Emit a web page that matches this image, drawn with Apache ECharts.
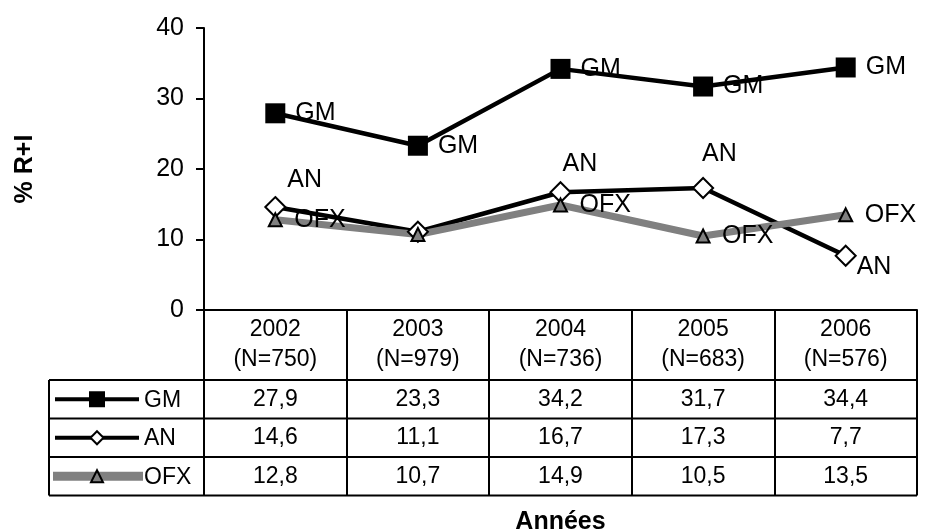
<!DOCTYPE html>
<html>
<head>
<meta charset="utf-8">
<script src="https://cdn.jsdelivr.net/npm/echarts@6/dist/echarts.min.js"></script>
<style>
  html, body { margin: 0; padding: 0; background: #fff; }
  #chart { width: 932px; height: 531px; }
</style>
</head>
<body>
<div id="chart"></div>
<script>
// Survey years and the sample size for each year
const years = ['2002', '2003', '2004', '2005', '2006'];
const sampleSizes = [750, 979, 736, 683, 576];

// Share (%) per group and year
const seriesNames = ['GM', 'AN', 'OFX'];
const gmValues = [27.9, 23.3, 34.2, 31.7, 34.4];
const anValues = [14.6, 11.1, 16.7, 17.3, 7.7];
const ofxValues = [12.8, 10.7, 14.9, 10.5, 13.5];

// Value axis
const yMin = 0, yMax = 40, yStep = 10;

const FONT = "'Liberation Sans', Arial, sans-serif";
const GRAY = '#808080';

// Layout of the plot and of the data table under it
const G = { left: 204, right: 15, top: 28, bottom: 221, outerBoundsMode: 'none', containLabel: false };
const HEADER_H = 70;   // header row (years) height
const ROW_H = 38.5;    // data row height
const TABLE_LEFT = 49; // left edge of the legend column

const fmt = v => v.toFixed(1).replace('.', ',');

// Hand-placed label offsets for the AN series (null = no label)
const anLabelOffsets = [[1, -27], null, [-9, -28], [-12, -34], [0, 11]];
const ofxLabelShown = [true, false, true, true, true];

const chart = echarts.init(document.getElementById('chart'), null, { renderer: 'canvas' });

const rowValues = [gmValues, anValues, ofxValues];

// One extra category axis per table row, carrying the row's values as labels
const rowAxes = rowValues.map((vals, r) => ({
  type: 'category',
  gridIndex: 0,
  position: 'bottom',
  offset: HEADER_H + r * ROW_H,
  data: vals.map(fmt),
  boundaryGap: true,
  axisLine: { show: false },
  axisTick: { show: false },
  axisLabel: {
    margin: 0, fontSize: 23, lineHeight: ROW_H, color: '#000', fontFamily: FONT
  }
}));

const labelBase = { color: '#000', fontSize: 25, fontFamily: FONT };

const option = {
  animation: false,
  backgroundColor: '#fff',
  grid: G,
  xAxis: [{
    type: 'category',
    data: years,
    boundaryGap: true,
    axisLine: { lineStyle: { color: '#000', width: 2 } },
    axisTick: { show: true, length: HEADER_H + 3 * ROW_H, lineStyle: { color: '#000', width: 2 } },
    axisLabel: {
      margin: 5,
      fontSize: 23,
      lineHeight: 30,
      color: '#000',
      fontFamily: FONT,
      formatter: (v, i) => v + '\n(N=' + sampleSizes[i] + ')'
    },
    name: 'Années',
    nameLocation: 'middle',
    nameGap: 200,
    nameTextStyle: { fontSize: 25, fontWeight: 'bold', color: '#000', fontFamily: FONT }
  }].concat(rowAxes),
  yAxis: {
    type: 'value',
    min: yMin, max: yMax, interval: yStep,
    axisLine: { show: true, lineStyle: { color: '#000', width: 2 } },
    axisTick: { show: true, length: 8, lineStyle: { color: '#000', width: 2 } },
    axisLabel: { margin: 20, fontSize: 25, color: '#000', fontFamily: FONT },
    splitLine: { show: false },
    name: '% R+I',
    nameLocation: 'middle',
    nameRotate: 90,
    nameGap: 166,
    nameTextStyle: { fontSize: 25, fontWeight: 'bold', color: '#000', fontFamily: FONT }
  },
  series: [
    {
      name: seriesNames[0], type: 'line', data: gmValues,
      symbol: 'rect', symbolSize: 20,
      lineStyle: { color: '#000', width: 4.5 },
      itemStyle: { color: '#000' },
      label: Object.assign({ show: true, position: 'right', distance: 10, formatter: seriesNames[0] }, labelBase)
    },
    {
      name: seriesNames[1], type: 'line',
      data: anValues.map((v, i) => ({
        value: v,
        label: anLabelOffsets[i]
          ? { show: true, offset: anLabelOffsets[i] }
          : { show: false }
      })),
      symbol: 'diamond', symbolSize: 20,
      lineStyle: { color: '#000', width: 4.5 },
      itemStyle: { color: '#fff', borderColor: '#000', borderWidth: 2 },
      label: Object.assign({ position: 'right', distance: 0, formatter: seriesNames[1] }, labelBase)
    },
    {
      name: seriesNames[2], type: 'line',
      data: ofxValues.map((v, i) => ({ value: v, label: { show: ofxLabelShown[i] } })),
      symbol: 'triangle', symbolSize: 13,
      lineStyle: { color: GRAY, width: 7 },
      itemStyle: { color: GRAY, borderColor: '#000', borderWidth: 2 },
      label: Object.assign({ position: 'right', distance: 11.5, formatter: seriesNames[2] }, labelBase)
    }
  ]
};

chart.setOption(option);

// Table rules and the legend column
const W = chart.getWidth(), H = chart.getHeight();
const right = W - G.right;
const axisY = H - G.bottom;
const rowTop = axisY + HEADER_H;
const graphics = [];
const stroke = { stroke: '#000', lineWidth: 2 };
for (let r = 0; r <= 3; r++) {
  const y = rowTop + r * ROW_H;
  graphics.push({ type: 'line', shape: { x1: TABLE_LEFT, y1: y, x2: right, y2: y }, style: stroke, z: 10 });
}
graphics.push({ type: 'line', shape: { x1: TABLE_LEFT, y1: rowTop, x2: TABLE_LEFT, y2: rowTop + 3 * ROW_H }, style: stroke, z: 10 });

const keyStyles = [
  { line: { stroke: '#000', lineWidth: 4 }, x1: 55, x2: 139, sym: 'rect', size: 16, fill: '#000', border: 0 },
  { line: { stroke: '#000', lineWidth: 4 }, x1: 55, x2: 139, sym: 'diamond', size: 13, fill: '#fff', border: 2 },
  { line: { stroke: GRAY, lineWidth: 9 }, x1: 53, x2: 143, sym: 'triangle', size: 12, fill: GRAY, border: 2 }
];
seriesNames.forEach((name, r) => {
  const cy = rowTop + r * ROW_H + ROW_H / 2;
  const k = keyStyles[r];
  graphics.push({ type: 'line', shape: { x1: k.x1, y1: cy, x2: k.x2, y2: cy }, style: k.line, z: 10 });
  const cx = 97, s = k.size / 2;
  if (k.sym === 'rect') {
    graphics.push({ type: 'rect', shape: { x: cx - s, y: cy - s, width: k.size, height: k.size }, style: { fill: k.fill }, z: 11 });
  } else if (k.sym === 'diamond') {
    graphics.push({ type: 'polygon', shape: { points: [[cx, cy - s], [cx + s, cy], [cx, cy + s], [cx - s, cy]] },
      style: { fill: k.fill, stroke: '#000', lineWidth: k.border }, z: 11 });
  } else {
    graphics.push({ type: 'polygon', shape: { points: [[cx, cy - s], [cx + s, cy + s], [cx - s, cy + s]] },
      style: { fill: k.fill, stroke: '#000', lineWidth: k.border }, z: 11 });
  }
  graphics.push({ type: 'text', x: 144, y: cy + 1,
    style: { text: name, fontSize: 23, fontFamily: FONT, fill: '#000', textAlign: 'left', textVerticalAlign: 'middle' }, z: 11 });
});

chart.setOption({ graphic: graphics });
</script>
</body>
</html>
